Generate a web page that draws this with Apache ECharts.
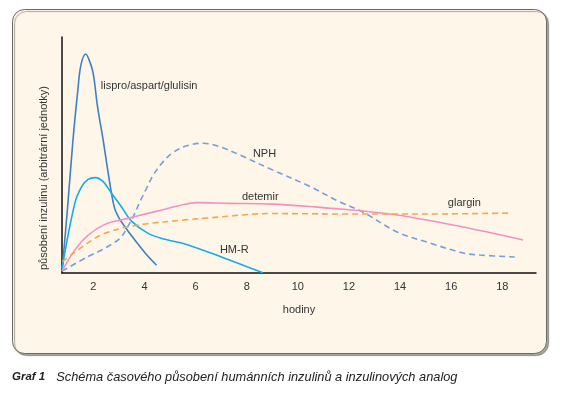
<!DOCTYPE html>
<html>
<head>
<meta charset="utf-8">
<script src="https://cdn.jsdelivr.net/npm/echarts@6/dist/echarts.min.js"></script>
<style>
html,body{margin:0;padding:0;background:#ffffff;}
#chart{width:561px;height:395px;}
</style>
</head>
<body>
<div id="chart"></div>
<script>
// Tick labels (hours)
const xTicks = [2, 4, 6, 8, 10, 12, 14, 16, 18];

// Series names / curve labels
const seriesNames = ['lispro/aspart/glulisin', 'HM-R', 'NPH', 'detemir', 'glargin'];

// lispro/aspart/glulisin
const lisproX = [0.78, 0.99, 1.20, 1.39, 1.51, 1.70, 1.83, 1.99, 2.16, 2.38, 2.58, 2.81, 2.97, 3.23, 3.62, 4.04, 4.47];
const lisproY = [1.7, 28.0, 56.4, 77.5, 88.1, 92.8, 90.3, 84.6, 70.5, 56.4, 42.2, 28.1, 23.9, 19.6, 14.0, 8.3, 3.3];

// HM-R
const hmrX = [0.77, 1.27, 1.54, 1.79, 2.08, 2.38, 2.71, 3.10, 3.49, 4.14, 4.80, 5.58, 7.11, 8.63];
const hmrY = [1.7, 29.5, 36.6, 39.7, 40.4, 38.7, 33.8, 28.0, 22.0, 16.8, 14.3, 12.3, 6.4, 0.1];

// NPH
const nphX = [0.77, 1.78, 2.45, 3.04, 3.30, 3.56, 3.82, 4.08, 4.34, 4.73, 5.12, 5.65, 6.30, 6.95, 7.73, 9.02, 10.35, 11.65, 12.55, 13.88, 15.17, 16.46, 17.13, 18.49];
const nphY = [0.8, 6.9, 10.5, 14.7, 18.9, 23.9, 30.2, 35.9, 41.5, 47.2, 51.1, 53.9, 55.0, 53.5, 50.0, 43.6, 37.3, 30.1, 25.8, 17.4, 12.7, 8.5, 7.6, 6.8];

// detemir
const detX = [0.77, 1.27, 1.80, 2.45, 3.10, 4.41, 5.58, 6.04, 7.34, 9.02, 11.65, 13.88, 16.46, 18.81];
const detY = [0.8, 9.7, 16.1, 20.6, 22.5, 26.0, 29.1, 29.8, 29.5, 29.2, 27.1, 24.6, 19.5, 14.0];

// glargin
const glaX = [0.78, 1.67, 2.45, 3.75, 5.58, 6.44, 9.02, 11.65, 15.17, 18.30];
const glaY = [4.8, 11.9, 16.8, 20.3, 22.5, 23.3, 25.2, 25.0, 25.0, 25.4];

// label anchor positions (data coords: hours, arbitrary units)
const labelX = [2.29, 6.95, 8.24, 7.81, 15.87];
const labelY = [79.2, 9.7, 50.4, 32.2, 29.7];

const xName = 'hodiny';
const yName = 'působení inzulinu (arbitrární jednotky)';
const captionBold = 'Graf 1';
const captionText = 'Schéma časového působení humánních inzulinů a inzulinových analog';

const FONT = '"Liberation Sans", Arial, Helvetica, sans-serif';

function pairs(xs, ys) { return xs.map((x, i) => [x, ys[i]]); }

const colors = ['#3f7fc4', '#18aae8', '#72a0de', '#f291c0', '#f9a54f'];
const dashed = [false, false, true, false, true];
const datas = [pairs(lisproX, lisproY), pairs(hmrX, hmrY), pairs(nphX, nphY), pairs(detX, detY), pairs(glaX, glaY)];

const series = seriesNames.map((name, i) => ({
  name: name,
  type: 'line',
  data: datas[i],
  smooth: 0.35,
  showSymbol: false,
  symbol: 'none',
  lineStyle: { color: colors[i], width: 1.6, type: dashed[i] ? [6, 4] : 'solid' },
  itemStyle: { color: colors[i] },
  z: 3,
  markPoint: {
    symbol: 'circle',
    symbolSize: 0,
    silent: true,
    data: [{ coord: [labelX[i], labelY[i]], value: name }],
    label: {
      show: true,
      position: 'right',
      distance: 0,
      formatter: name,
      color: '#333333',
      fontSize: 11,
      fontFamily: FONT
    }
  }
}));

const chart = echarts.init(document.getElementById('chart'), null, { renderer: 'canvas' });
chart.setOption({
  animation: false,
  backgroundColor: '#ffffff',
  graphic: [{
    type: 'rect',
    z: -10,
    silent: true,
    shape: { x: 12.5, y: 9.5, width: 534, height: 344, r: 12 },
    style: {
      fill: '#fef6e9',
      stroke: '#6a6a6a',
      lineWidth: 1,
      shadowColor: 'rgba(0,0,0,0.35)',
      shadowOffsetX: 2,
      shadowOffsetY: 2,
      shadowBlur: 1
    }
  }],
  title: {
    left: 12,
    top: 369,
    padding: 0,
    text: '{b|' + captionBold + '}{i|' + captionText + '}',
    textStyle: {
      rich: {
        b: { fontFamily: FONT, fontSize: 11.5, fontWeight: 'bold', fontStyle: 'italic', color: '#222', lineHeight: 16, padding: [0, 11, 0, 0] },
        i: { fontFamily: FONT, fontSize: 12.8, fontWeight: 'normal', fontStyle: 'italic', color: '#222', lineHeight: 16 }
      }
    }
  },
  grid: { left: 62, right: 25, top: 37, bottom: 122, containLabel: false },
  xAxis: {
    type: 'value',
    min: 0.77,
    max: 19.32,
    name: xName,
    nameLocation: 'middle',
    nameGap: 31,
    nameTextStyle: { color: '#333', fontSize: 11, fontFamily: FONT },
    axisLine: { show: true, onZero: false, lineStyle: { color: '#111', width: 1.5 } },
    axisTick: { show: false },
    splitLine: { show: false },
    axisLabel: {
      customValues: xTicks,
      color: '#333',
      fontSize: 11,
      fontFamily: FONT,
      margin: 8
    }
  },
  yAxis: {
    type: 'value',
    min: 0,
    max: 100,
    name: yName,
    nameLocation: 'middle',
    nameGap: 13,
    nameTextStyle: { color: '#333', fontSize: 11, fontFamily: FONT, padding: [0, 46, 0, 0] },
    axisLine: { show: true, lineStyle: { color: '#111', width: 1.5 } },
    axisTick: { show: false },
    axisLabel: { show: false },
    splitLine: { show: false }
  },
  series: series
});
</script>
</body>
</html>
